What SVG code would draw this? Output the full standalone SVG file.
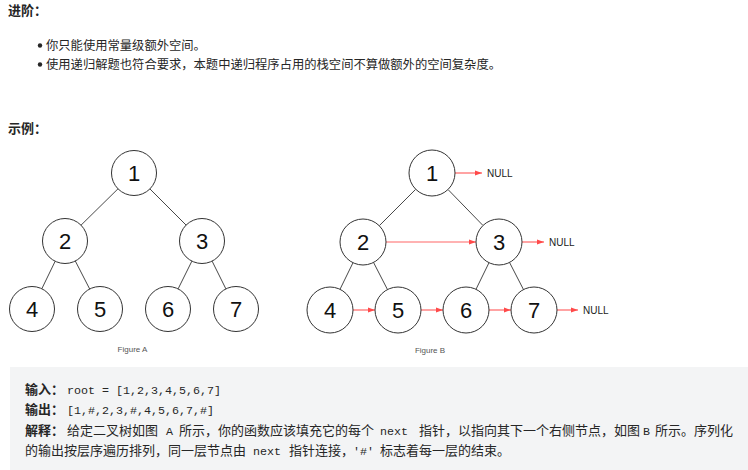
<svg xmlns="http://www.w3.org/2000/svg" width="748" height="470" viewBox="0 0 748 470">
<style>
.cjk{font-family:"Liberation Sans","Noto Sans CJK SC",sans-serif;fill:#262626}
.h{font-size:13px;font-weight:bold}
.b{font-size:12.3px}
.t{font-size:13px}
.bt{font-size:13px;font-weight:bold}
.mono{font-family:"Liberation Mono","Noto Sans CJK SC",monospace;font-size:11.67px;fill:#262626}
.nd circle{fill:#fff;stroke:#333;stroke-width:1}
.nd text{font-family:"Liberation Sans",Arial,sans-serif;font-size:22px;fill:#111;text-anchor:middle}
.edge{stroke:#333;stroke-width:0.9;fill:none}
.nx{stroke:#ff6666;stroke-width:1.2;fill:none;marker-end:url(#ah)}
.null{font-family:"Liberation Sans",Arial,sans-serif;font-size:10px;fill:#222}
.cap{font-family:"Liberation Sans",Arial,sans-serif;font-size:8px;fill:#555;text-anchor:middle}
</style>
<defs>
<marker id="ah" markerUnits="userSpaceOnUse" markerWidth="7" markerHeight="6" refX="7" refY="3" orient="auto">
<path d="M0,0.5 L7,3 L0,5.5 z" fill="#ff4a4a"/>
</marker>
</defs>
<rect width="748" height="470" fill="#fff"/>

<g id="header">
<text class="cjk h" x="8" y="15">进阶：</text>
<circle cx="40" cy="45.5" r="2.2" fill="#262626"/>
<text class="cjk b" x="46" y="49.5">你只能使用常量级额外空间。</text>
<circle cx="40" cy="64.5" r="2.2" fill="#262626"/>
<text class="cjk b" x="46" y="69">使用递归解题也符合要求，本题中递归程序占用的栈空间不算做额外的空间复杂度。</text>
<text class="cjk h" x="8" y="133">示例：</text>
</g>

<g id="connectors">
<line class="edge" x1="118" y1="188.8" x2="81" y2="225.2"/>
<line class="edge" x1="149.9" y1="188.9" x2="186.1" y2="225.1"/>
<line class="edge" x1="55.2" y1="261.2" x2="41.8" y2="288.8"/>
<line class="edge" x1="75.3" y1="261" x2="89.7" y2="289"/>
<line class="edge" x1="191.9" y1="261.1" x2="178.1" y2="288.9"/>
<line class="edge" x1="212.1" y1="261.1" x2="225.9" y2="288.9"/>

<line class="edge" x1="415.7" y1="189.3" x2="379.3" y2="225.7"/>
<line class="edge" x1="448" y1="189.5" x2="483" y2="225.5"/>
<line class="edge" x1="353" y1="262.7" x2="340" y2="289.3"/>
<line class="edge" x1="373.5" y1="262.4" x2="387.5" y2="289.6"/>
<line class="edge" x1="489" y1="262.7" x2="476" y2="289.3"/>
<line class="edge" x1="509.5" y1="262.4" x2="523.5" y2="289.6"/>

<line class="nx" x1="455" y1="173" x2="482" y2="173"/>
<line class="nx" x1="386" y1="242" x2="476" y2="242"/>
<line class="nx" x1="522" y1="242" x2="544" y2="242"/>
<line class="nx" x1="353" y1="310" x2="375" y2="310"/>
<line class="nx" x1="421" y1="310" x2="443" y2="310"/>
<line class="nx" x1="489" y1="310" x2="511" y2="310"/>
<line class="nx" x1="557" y1="310" x2="578" y2="310"/>
</g>

<g id="A1" class="nd"><circle cx="134" cy="173" r="22.5"/><text x="134" y="181">1</text></g>
<g id="A2" class="nd"><circle cx="65" cy="241" r="22.5"/><text x="65" y="249">2</text></g>
<g id="A3" class="nd"><circle cx="202" cy="241" r="22.5"/><text x="202" y="249">3</text></g>
<g id="A4" class="nd"><circle cx="32" cy="309" r="22.5"/><text x="32" y="317">4</text></g>
<g id="A5" class="nd"><circle cx="100" cy="309" r="22.5"/><text x="100" y="317">5</text></g>
<g id="A6" class="nd"><circle cx="168" cy="309" r="22.5"/><text x="168" y="317">6</text></g>
<g id="A7" class="nd"><circle cx="236" cy="309" r="22.5"/><text x="236" y="317">7</text></g>
<g id="capA"><text class="cap" x="132.5" y="352">Figure A</text></g>

<g id="B1" class="nd"><circle cx="432" cy="173" r="23"/><text x="432" y="181">1</text></g>
<g id="B2" class="nd"><circle cx="363" cy="242" r="23"/><text x="363" y="250">2</text></g>
<g id="B3" class="nd"><circle cx="499" cy="242" r="23"/><text x="499" y="250">3</text></g>
<g id="B4" class="nd"><circle cx="330" cy="310" r="23"/><text x="330" y="318">4</text></g>
<g id="B5" class="nd"><circle cx="398" cy="310" r="23"/><text x="398" y="318">5</text></g>
<g id="B6" class="nd"><circle cx="466" cy="310" r="23"/><text x="466" y="318">6</text></g>
<g id="B7" class="nd"><circle cx="534" cy="310" r="23"/><text x="534" y="318">7</text></g>
<g id="null1"><text class="null" x="487" y="176.6">NULL</text></g>
<g id="null2"><text class="null" x="549" y="245.6">NULL</text></g>
<g id="null3"><text class="null" x="583" y="313.6">NULL</text></g>
<g id="capB"><text class="cap" x="430" y="353">Figure B</text></g>

<g id="example">
<rect x="10" y="367" width="738" height="103" fill="#f3f4f5"/>
<text class="cjk bt" x="25" y="394">输入：</text>
<text class="mono" x="67" y="394">root = [1,2,3,4,5,6,7]</text>
<text class="cjk bt" x="25" y="414">输出：</text>
<text class="mono" x="67" y="414">[1,#,2,3,#,4,5,6,7,#]</text>
<text class="cjk bt" x="25" y="435">解释：</text>
<text class="cjk t" x="67" y="435">给定二叉树如图</text>
<text class="mono" x="166" y="435">A</text>
<text class="cjk t" x="179" y="435">所示，你的函数应该填充它的每个</text>
<text class="mono" x="380" y="435">next</text>
<text class="cjk t" x="419" y="435">指针，以指向其下一个右侧节点，如图</text>
<text class="mono" x="643" y="435">B</text>
<text class="cjk t" x="655" y="435">所示。序列化</text>
<text class="cjk t" x="25" y="455">的输出按层序遍历排列，同一层节点由</text>
<text class="mono" x="253" y="455">next</text>
<text class="cjk t" x="289" y="455">指针连接，</text>
<text class="mono" x="353" y="455">'#'</text>
<text class="cjk t" x="380" y="455">标志着每一层的结束。</text>
</g>
</svg>
